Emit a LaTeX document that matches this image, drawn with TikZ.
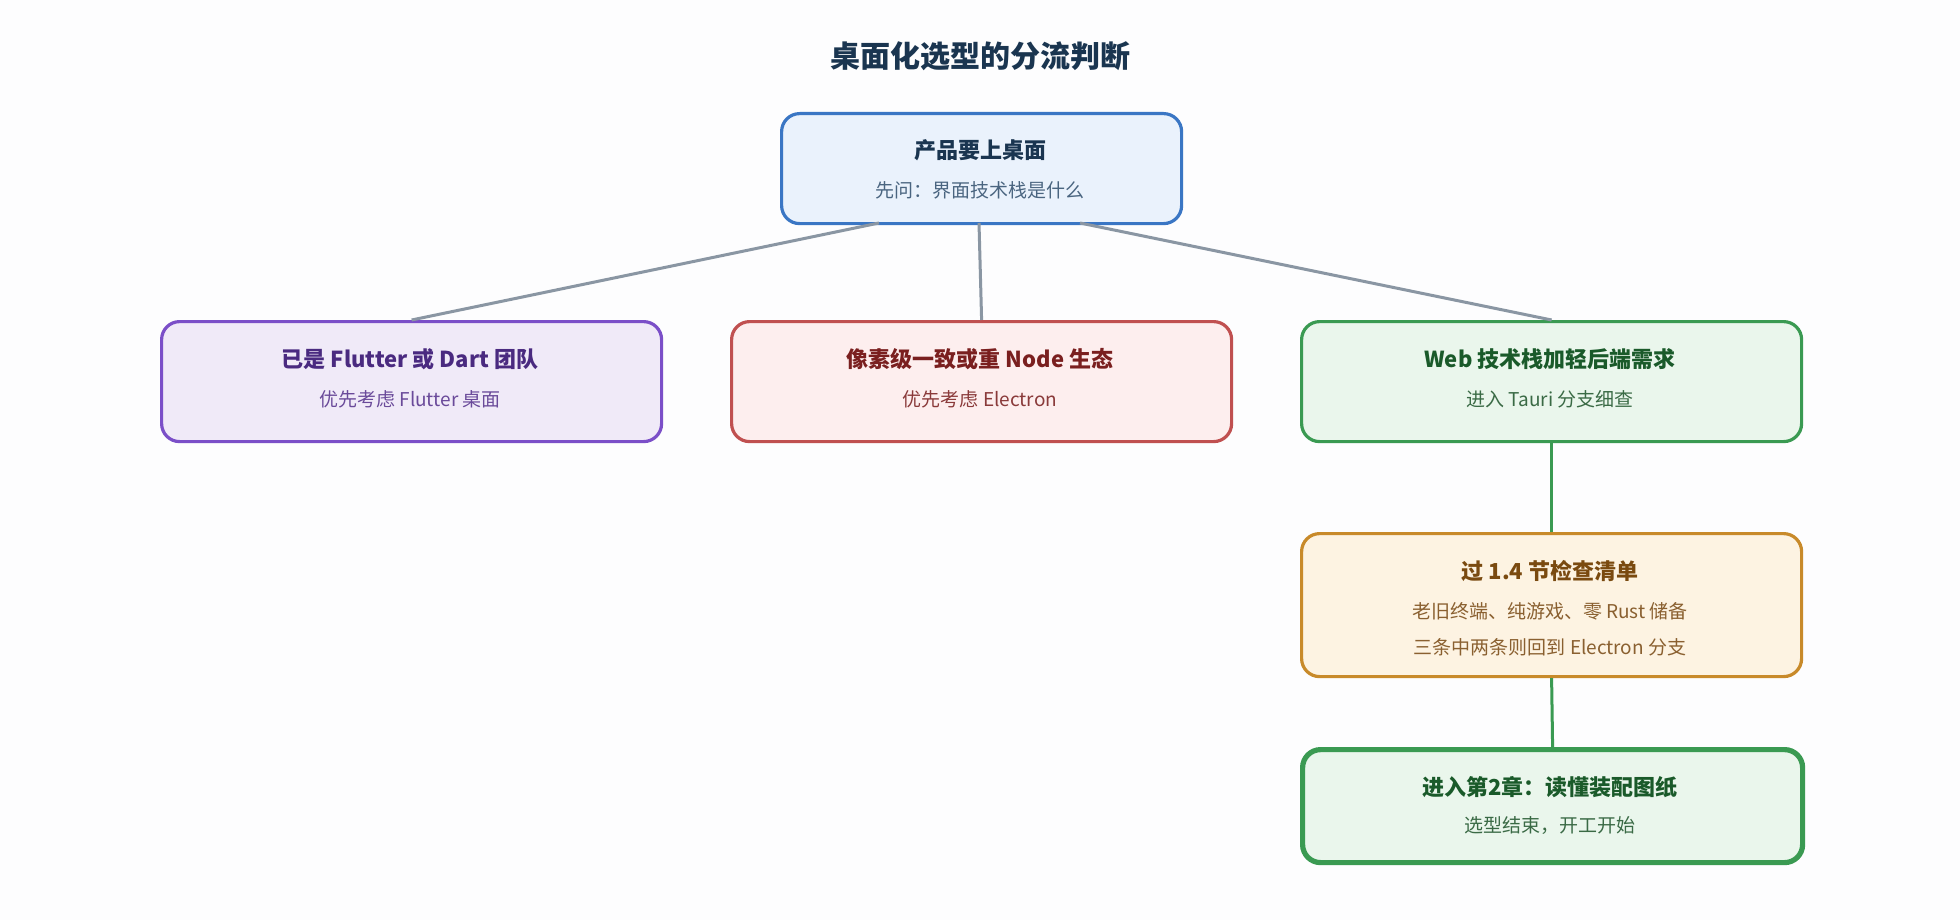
\documentclass[tikz,border=0pt]{standalone}
\usepackage{fontspec}
\setmainfont{Noto Sans CJK SC}
\begin{document}
\begin{tikzpicture}[x=0.5pt,y=-0.5pt,
 box/.style={draw,rounded corners=9pt,line width=1.6pt,anchor=north west,inner sep=0pt},
 hd/.style={font=\fontsize{11}{13}\selectfont\bfseries},
 sb/.style={font=\fontsize{9.5}{12}\selectfont},
 ln/.style={line width=1.5pt,draw=lineg}]
\definecolor{bg}{HTML}{FDFDFE}
\definecolor{lineg}{HTML}{8A96A3}
\definecolor{bF}{HTML}{EAF2FC}\definecolor{bD}{HTML}{3A76C4}\definecolor{bT}{HTML}{1A3550}\definecolor{bS}{HTML}{4A6580}
\definecolor{pF}{HTML}{F0EAF8}\definecolor{pD}{HTML}{7B4FC8}\definecolor{pT}{HTML}{4A2A80}\definecolor{pS}{HTML}{6A4A9A}
\definecolor{rF}{HTML}{FDEEEE}\definecolor{rD}{HTML}{C05050}\definecolor{rT}{HTML}{7A1F1F}\definecolor{rS}{HTML}{8A3A3A}
\definecolor{gF}{HTML}{EAF6EC}\definecolor{gD}{HTML}{3A9A52}\definecolor{gT}{HTML}{1A5A2A}\definecolor{gS}{HTML}{3A6A45}
\definecolor{oF}{HTML}{FDF3E2}\definecolor{oD}{HTML}{C88A2A}\definecolor{oT}{HTML}{7A4A10}\definecolor{oS}{HTML}{8A6030}
\fill[bg] (0,0) rectangle (1960,920);
\node[font=\fontsize{15}{18}\selectfont\bfseries,text=bT] (title) at (980,56) {桌面化选型的分流判断};
% boxes
\node[box,fill=bF,draw=bD,minimum width=200pt,minimum height=55pt] (top) at (780,112) {};
\node[hd,text=bT] at (980,150) {产品要上桌面};
\node[sb,text=bS] at (980,190) {先问：界面技术栈是什么};
\node[box,fill=pF,draw=pD,minimum width=250pt,minimum height=60pt] (p) at (160,320) {};
\node[hd,text=pT] at (410,359) {已是 Flutter 或 Dart 团队};
\node[sb,text=pS] at (410,399) {优先考虑 Flutter 桌面};
\node[box,fill=rF,draw=rD,minimum width=250pt,minimum height=60pt] (r) at (730,320) {};
\node[hd,text=rT] at (980,359) {像素级一致或重 Node 生态};
\node[sb,text=rS] at (980,399) {优先考虑 Electron};
\node[box,fill=gF,draw=gD,minimum width=250pt,minimum height=60pt] (g) at (1300,320) {};
\node[hd,text=gT] at (1550,359) {Web 技术栈加轻后端需求};
\node[sb,text=gS] at (1550,399) {进入 Tauri 分支细查};
\node[box,fill=oF,draw=oD,minimum width=250pt,minimum height=71.5pt] (o) at (1300,532) {};
\node[hd,text=oT] at (1550,571) {过 1.4 节检查清单};
\node[sb,text=oS] at (1550,611) {老旧终端、纯游戏、零 Rust 储备};
\node[sb,text=oS] at (1550,647) {三条中两条则回到 Electron 分支};
\node[box,fill=gF,draw=gD,line width=2.6pt,minimum width=250pt,minimum height=56.5pt] (e) at (1300,747) {};
\node[hd,text=gT] at (1550,787) {进入第2章：读懂装配图纸};
\node[sb,text=gS] at (1550,826) {选型结束，开工开始};
% connectors
\coordinate (t1) at (879,223);\coordinate (t2) at (979,223);\coordinate (t3) at (1080,223);
\draw[ln] (t1) -- (p.north);
\draw[ln] (t2) -- (r.north);
\draw[ln] (t3) -- (g.north);
\draw[ln,draw=gD] (g.south) -- (o.north);
\draw[ln,draw=gD] (o.south) -- (e.north);
\end{tikzpicture}
\end{document}
